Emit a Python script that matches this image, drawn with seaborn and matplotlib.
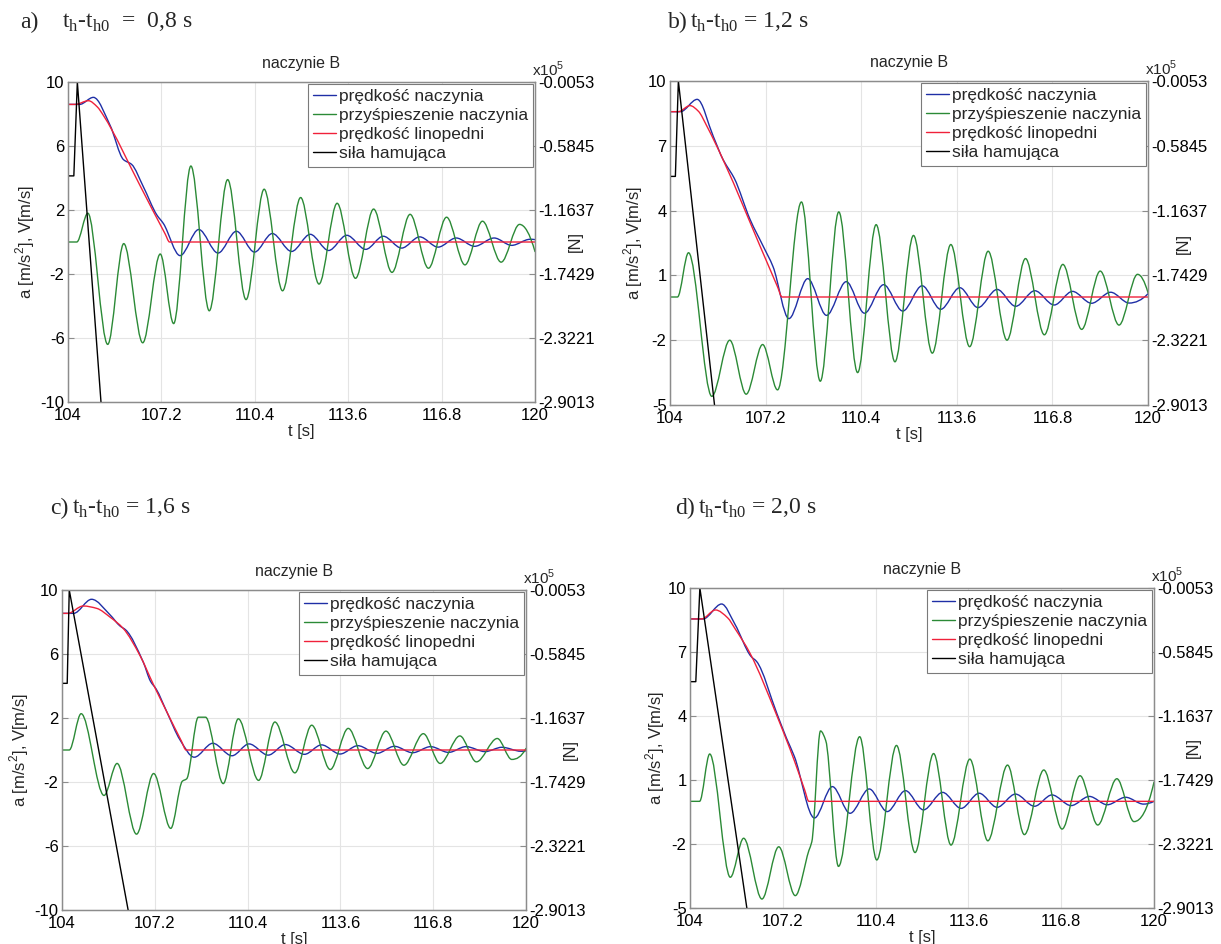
import numpy as np
import matplotlib
matplotlib.use("Agg")
import matplotlib.pyplot as plt
import seaborn as sns
from matplotlib.path import Path
from matplotlib.patches import PathPatch
from matplotlib.lines import Line2D

# ------------------------------------------------------------------ data
X_TICKS = [104, 107.2, 110.4, 113.6, 116.8, 120]
X_TICK_LABELS = ["104", "107.2", "110.4", "113.6", "116.8", "120"]
FORCE_TICKS = [-2.9013, -2.3221, -1.7429, -1.1637, -0.5845, -0.0053]   # x10^5 N
LEGEND_LABELS = ["prędkość naczynia", "przyśpieszenie naczynia",
                 "prędkość linopedni", "siła hamująca"]
PANEL_LETTERS = ["a)", "b)", "c)", "d)"]
PANEL_TEXTS = ["t$_\\mathregular{h}$-t$_\\mathregular{h0}$  =  0,8 s",
               "t$_\\mathregular{h}$-t$_\\mathregular{h0}$ = 1,2 s",
               "t$_\\mathregular{h}$-t$_\\mathregular{h0}$ = 1,6 s",
               "t$_\\mathregular{h}$-t$_\\mathregular{h0}$ = 2,0 s"]
LEFT_TICKS_A = [-10, -6, -2, 2, 6, 10]
LEFT_TICKS_B = [-5, -2, 1, 4, 7, 10]

# panel a
A_BLUE_T = [104.0, 104.4, 104.87, 105.44, 105.9, 106.18, 106.58, 107.04, 107.27, 107.84,
            108.48, 109.14, 109.77, 110.39, 111.0, 111.66, 112.3, 112.93, 113.55, 114.2,
            114.8, 115.43, 116.05, 116.68, 117.3, 117.93, 118.6, 119.2, 119.83, 120.0]
A_BLUE_V = [8.6, 8.6, 9.04, 7.3, 5.15, 4.85, 3.46, 1.7, 1.15, -0.85,
            0.78, -0.69, 0.67, -0.63, 0.53, -0.59, 0.48, -0.53, 0.42, -0.46,
            0.36, -0.38, 0.32, -0.32, 0.25, -0.27, 0.25, -0.21, 0.17, 0.15]
A_RED_T = [104.0, 104.25, 104.7, 105.0, 105.21, 106.47, 107.33, 107.48, 120.0]
A_RED_V = [8.6, 8.6, 8.83, 8.45, 7.92, 3.52, 0.5, 0.0, 0.0]
A_GREEN_T = [104.0, 104.3, 104.68, 105.36, 105.91, 106.56, 107.16, 107.62, 108.21, 108.84,
             109.47, 110.1, 110.72, 111.35, 111.97, 112.6, 113.22, 113.85, 114.47, 115.1,
             115.72, 116.35, 116.97, 117.6, 118.2, 118.84, 119.47, 120.0]
A_GREEN_V = [0.0, 0.0, 1.8, -6.4, -0.1, -6.3, -0.75, -5.1, 4.75, -4.3,
             3.9, -3.6, 3.3, -3.05, 2.78, -2.63, 2.42, -2.27, 2.06, -1.9,
             1.73, -1.64, 1.55, -1.43, 1.3, -1.26, 1.1, -0.6]
A_BLACK_T = [104.0, 104.2, 104.32, 105.13]
A_BLACK_F = [-85500, -85500, -530, -290130]

# panel b
B_BLUE_T = [104.0, 104.35, 104.91, 105.45, 105.78, 106.0, 106.15, 106.68, 107.12, 107.45,
            107.98, 108.61, 109.24, 109.9, 110.51, 111.15, 111.79, 112.44, 113.06, 113.7,
            114.31, 114.95, 115.57, 116.21, 116.86, 117.47, 118.11, 118.75, 119.37, 120.0]
B_BLUE_V = [8.58, 8.58, 9.15, 7.43, 6.35, 5.85, 5.5, 3.59, 2.35, 1.4,
            -1.0, 0.85, -0.85, 0.71, -0.75, 0.57, -0.65, 0.52, -0.57, 0.43,
            -0.49, 0.35, -0.43, 0.29, -0.37, 0.26, -0.29, 0.22, -0.28, 0.15]
B_RED_T = [104.0, 104.28, 104.67, 104.95, 105.23, 107.6, 107.75, 120.0]
B_RED_V = [8.58, 8.58, 8.86, 8.6, 7.92, 0.47, 0.0, 0.0]
B_GREEN_T = [104.0, 104.25, 104.62, 105.4, 106.0, 106.55, 107.1, 107.6, 108.4, 109.03,
             109.65, 110.28, 110.9, 111.53, 112.15, 112.78, 113.4, 114.03, 114.65, 115.28,
             115.9, 116.53, 117.15, 117.78, 118.4, 119.03, 119.65, 120.0]
B_GREEN_V = [0.0, 0.0, 2.05, -4.6, -2.0, -4.5, -2.2, -4.3, 4.4, -3.9,
             3.94, -3.5, 3.35, -3.0, 2.85, -2.6, 2.43, -2.3, 2.12, -2.0,
             1.78, -1.75, 1.51, -1.5, 1.2, -1.3, 1.05, 0.2]
B_BLACK_T = [104.0, 104.18, 104.28, 105.49]
B_BLACK_F = [-85800, -85800, -530, -290130]

# panel c
C_BLUE_T = [104.0, 104.4, 105.02, 105.66, 106.0, 106.2, 106.8, 107.05, 107.25, 107.61,
            108.07, 108.56, 109.2, 109.86, 110.45, 111.11, 111.7, 112.36, 112.95, 113.59,
            114.2, 114.86, 115.46, 116.09, 116.71, 117.33, 117.93, 118.59, 119.17, 119.83, 120.0]
C_BLUE_V = [8.54, 8.54, 9.42, 8.44, 7.75, 7.5, 5.5, 4.3, 3.8, 2.4,
            0.63, -0.45, 0.42, -0.36, 0.38, -0.32, 0.34, -0.27, 0.32, -0.25,
            0.27, -0.21, 0.23, -0.17, 0.21, -0.15, 0.21, -0.1, 0.17, -0.08, -0.05]
C_RED_T = [104.0, 104.2, 104.73, 105.2, 105.66, 106.11, 106.69, 107.15, 107.61, 108.12, 108.28, 120.0]
C_RED_V = [8.54, 8.54, 9.0, 8.85, 8.3, 7.6, 5.9, 4.1, 2.4, 0.55, 0.0, 0.0]
C_GREEN_T = [104.0, 104.25, 104.66, 105.45, 105.9, 106.57, 107.16, 107.75, 108.15, 108.3,
             108.7, 108.95, 109.56, 110.08, 110.78, 111.34, 112.03, 112.61, 113.25, 113.87,
             114.54, 115.17, 115.79, 116.46, 117.04, 117.72, 118.29, 119.01, 119.51, 120.0]
C_GREEN_V = [0.0, 0.0, 2.27, -2.84, -0.84, -5.26, -1.47, -4.9, -1.95, -1.8,
             2.05, 2.05, -2.1, 1.95, -1.9, 1.75, -1.43, 1.55, -1.22, 1.35,
             -1.16, 1.18, -0.95, 1.02, -0.84, 0.88, -0.74, 0.72, -0.59, 0.1]
C_BLACK_T = [104.0, 104.18, 104.25, 106.28]
C_BLACK_F = [-85000, -85000, -530, -290130]

# panel d
D_BLUE_T = [104.0, 104.45, 105.09, 105.55, 106.1, 106.3, 107.0, 107.33, 107.6, 108.29,
            108.91, 109.52, 110.18, 110.8, 111.43, 112.05, 112.71, 113.35, 113.97, 114.59,
            115.22, 115.88, 116.48, 117.14, 117.77, 118.39, 119.02, 119.64, 120.0]
D_BLUE_V = [8.55, 8.55, 9.25, 8.3, 6.8, 6.55, 4.1, 2.95, 2.1, -0.78,
            0.69, -0.56, 0.58, -0.48, 0.5, -0.4, 0.42, -0.33, 0.38, -0.28,
            0.34, -0.23, 0.3, -0.2, 0.23, -0.16, 0.19, -0.13, 0.0]
D_RED_T = [104.0, 104.4, 104.88, 105.3, 105.55, 106.07, 107.0, 107.6, 107.95, 108.1, 120.0]
D_RED_V = [8.55, 8.55, 8.97, 8.6, 8.1, 6.94, 4.0, 1.9, 0.55, 0.0, 0.0]
D_GREEN_T = [104.0, 104.33, 104.68, 105.39, 105.85, 106.48, 107.06, 107.63, 108.1, 108.2,
             108.5, 108.68, 109.12, 109.85, 110.44, 111.12, 111.76, 112.4, 113.0, 113.65,
             114.27, 114.95, 115.53, 116.2, 116.83, 117.45, 118.06, 118.72, 119.31, 120.0]
D_GREEN_V = [0.0, 0.0, 2.22, -3.56, -1.73, -4.58, -2.13, -4.42, -2.3, -1.9,
             3.3, 2.85, -3.05, 3.03, -2.75, 2.62, -2.4, 2.24, -2.05, 1.98,
             -1.85, 1.7, -1.56, 1.47, -1.3, 1.2, -1.11, 1.06, -0.95, 0.9]
D_BLACK_T = [104.0, 104.2, 104.34, 105.96]
D_BLACK_F = [-85300, -85300, -530, -290130]

# ------------------------------------------------------------------ style
C_BLUE = "#1f2fa6"
C_GREEN = "#2b8a36"
C_RED = "#f0213a"
C_BLACK = "#000000"
SPINE = "#8c8c8c"

sns.set_theme(style="white")
plt.rcParams["font.family"] = ["Liberation Sans", "DejaVu Sans"]


def smooth_path(x, y):
    """Shape-preserving cubic (PCHIP) curve through the points, as Bezier path."""
    x = np.asarray(x, float)
    y = np.asarray(y, float)
    n = len(x)
    h = np.diff(x)
    d = np.diff(y) / h
    m = np.zeros(n)
    for k in range(1, n - 1):
        if d[k - 1] * d[k] <= 0:
            m[k] = 0.0
        else:
            w1 = 2 * h[k] + h[k - 1]
            w2 = h[k] + 2 * h[k - 1]
            m[k] = (w1 + w2) / (w1 / d[k - 1] + w2 / d[k])

    def endslope(h0, h1, d0, d1):
        mm = ((2 * h0 + h1) * d0 - h0 * d1) / (h0 + h1)
        if np.sign(mm) != np.sign(d0):
            mm = 0.0
        elif np.sign(d0) != np.sign(d1) and abs(mm) > abs(3 * d0):
            mm = 3 * d0
        return mm

    m[0] = endslope(h[0], h[1], d[0], d[1])
    m[-1] = endslope(h[-1], h[-2], d[-1], d[-2])
    verts = [(x[0], y[0])]
    codes = [Path.MOVETO]
    for k in range(n - 1):
        verts += [(x[k] + h[k] / 3, y[k] + m[k] * h[k] / 3),
                  (x[k + 1] - h[k] / 3, y[k + 1] - m[k + 1] * h[k] / 3),
                  (x[k + 1], y[k + 1])]
        codes += [Path.CURVE4] * 3
    return Path(verts, codes)


W, H = 1221, 944
fig = plt.figure(figsize=(W / 100, H / 100), dpi=100)
fig.patch.set_facecolor("white")

panels = [
    dict(box=(68, 82, 535, 402), lt=LEFT_TICKS_A, ylim=(-10, 10),
         blue=(A_BLUE_T, A_BLUE_V), green=(A_GREEN_T, A_GREEN_V), red=(A_RED_T, A_RED_V),
         black=(A_BLACK_T, A_BLACK_F), letter_x=20, text_x=62, lab_y=22,
         ylab_x=37, nlab=1.086),
    dict(box=(670, 81, 1148, 405), lt=LEFT_TICKS_B, ylim=(-5, 10),
         blue=(B_BLUE_T, B_BLUE_V), green=(B_GREEN_T, B_GREEN_V), red=(B_RED_T, B_RED_V),
         black=(B_BLACK_T, B_BLACK_F), letter_x=668, text_x=690, lab_y=22,
         ylab_x=645, nlab=1.075),
    dict(box=(62, 590, 526, 910), lt=LEFT_TICKS_A, ylim=(-10, 10),
         blue=(C_BLUE_T, C_BLUE_V), green=(C_GREEN_T, C_GREEN_V), red=(C_RED_T, C_RED_V),
         black=(C_BLACK_T, C_BLACK_F), letter_x=50, text_x=72, lab_y=508,
         ylab_x=31, nlab=1.095),
    dict(box=(690, 588, 1154, 908), lt=LEFT_TICKS_B, ylim=(-5, 10),
         blue=(D_BLUE_T, D_BLUE_V), green=(D_GREEN_T, D_GREEN_V), red=(D_RED_T, D_RED_V),
         black=(D_BLACK_T, D_BLACK_F), letter_x=675, text_x=698, lab_y=508,
         ylab_x=667, nlab=1.084),
]

for i, p in enumerate(panels):
    x0, y0, x1, y1 = p["box"]
    ax = fig.add_axes([x0 / W, 1 - y1 / H, (x1 - x0) / W, (y1 - y0) / H])
    ax2 = ax.twinx()

    for key, col in (("blue", C_BLUE), ("green", C_GREEN), ("red", C_RED)):
        t, v = p[key]
        patch = PathPatch(smooth_path(t, v), fill=False, edgecolor=col, lw=1.0,
                          capstyle="round", joinstyle="round")
        ax.add_patch(patch)

    bt, bf = p["black"]
    sns.lineplot(x=bt, y=bf, ax=ax2, color=C_BLACK, lw=1.0, estimator=None, sort=False)

    ax.set_xlim(104, 120)
    ax.set_ylim(*p["ylim"])
    ax2.set_ylim(FORCE_TICKS[0] * 1e5, FORCE_TICKS[-1] * 1e5)
    ax2.set_xlim(104, 120)

    ax.set_xticks(X_TICKS)
    ax.set_xticklabels(X_TICK_LABELS)
    ax.set_yticks(p["lt"])
    ax.set_yticklabels([str(v) for v in p["lt"]])
    ax2.set_yticks([v * 1e5 for v in FORCE_TICKS])
    ax2.set_yticklabels([f"{v:.4f}" for v in FORCE_TICKS])
    ax2.set_ylabel("")
    ax2.set_xlabel("")

    ax.grid(True, color="#e4e4e4", lw=0.8)
    ax.set_axisbelow(True)
    ax2.grid(False)
    for a_ in (ax, ax2):
        for s in a_.spines.values():
            s.set_color(SPINE)
            s.set_linewidth(0.9)
    ax.tick_params(axis="both", direction="in", length=4, width=0.8, color=SPINE,
                   labelsize=12, pad=2.5, labelcolor="black")
    ax.tick_params(axis="x", pad=4)
    ax2.tick_params(axis="y", direction="in", length=4, width=0.8, color=SPINE,
                    labelsize=12, pad=2, labelcolor="black")

    ax.set_title("naczynie B", fontsize=11.5, pad=10)
    ax.set_xlabel("t [s]", fontsize=12, labelpad=1)
    ax.set_ylabel("a [m/s$^\\mathregular{2}$], V[m/s]", fontsize=12)
    ax.yaxis.set_label_coords((p["ylab_x"] - x0) / (x1 - x0), 0.5)

    ax2.text(p["nlab"], 0.5, "[N]", rotation=90, ha="center", va="center",
             fontsize=12, transform=ax2.transAxes)
    ax2.text(0.994, 1.018, "x10$^\\mathregular{5}$", ha="left", va="baseline",
             fontsize=11, transform=ax2.transAxes)

    handles = [Line2D([], [], color=c, lw=1.0) for c in (C_BLUE, C_GREEN, C_RED, C_BLACK)]
    leg = ax2.legend(handles, LEGEND_LABELS, loc="upper right", fontsize=12.5,
                     frameon=True, fancybox=False, edgecolor="#7a7a7a", framealpha=1,
                     borderpad=0.3, labelspacing=0.22, handlelength=1.3,
                     handletextpad=0.15, borderaxespad=0.12)
    leg.get_frame().set_linewidth(0.8)

    serif = ["Liberation Serif", "DejaVu Serif"]
    fig.text(p["letter_x"] / W, 1 - p["lab_y"] / H, PANEL_LETTERS[i], fontsize=17,
             ha="left", va="center", family=serif)
    fig.text(p["text_x"] / W, 1 - p["lab_y"] / H, PANEL_TEXTS[i], fontsize=17,
             ha="left", va="center", family=serif)

fig.savefig("out.png", dpi=100, facecolor="white")
